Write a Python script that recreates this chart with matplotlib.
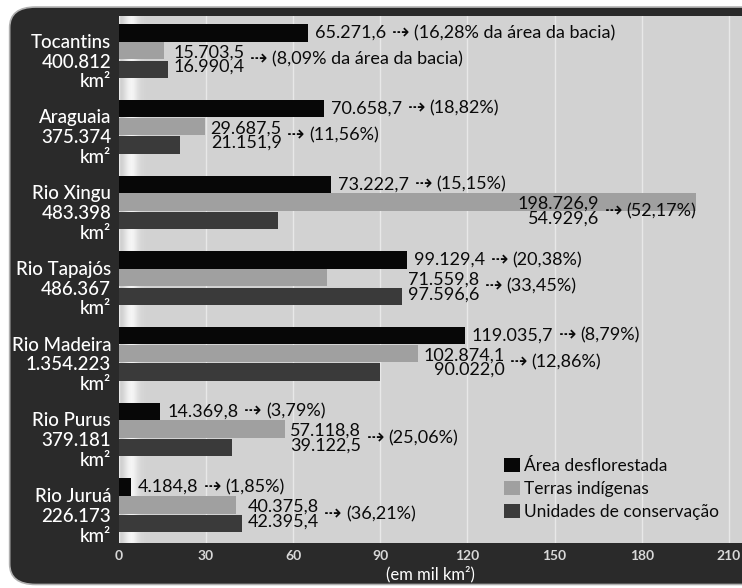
import matplotlib
matplotlib.use("Agg")
import matplotlib.pyplot as plt
import numpy as np
from matplotlib.patches import FancyBboxPatch
from matplotlib.offsetbox import TextArea, VPacker, HPacker, AnnotationBbox

plt.rcParams['font.family'] = ['Lato', 'DejaVu Sans']

# data (mil km²)
bacias = ['Tocantins', 'Araguaia', 'Rio Xingu', 'Rio Tapajós', 'Rio Madeira', 'Rio Purus', 'Rio Juruá']
areas = ['400.812', '375.374', '483.398', '486.367', '1.354.223', '379.181', '226.173']
desflorestada = [65.2716, 70.6587, 73.2227, 99.1294, 119.0357, 14.3698, 4.1848]
indigenas = [15.7035, 29.6875, 198.7269, 71.5598, 102.8741, 57.1188, 40.3758]
conservacao = [16.9904, 21.1519, 54.9296, 97.5966, 90.0220, 39.1225, 42.3954]
txt_desf = ['65.271,6', '70.658,7', '73.222,7', '99.129,4', '119.035,7', '14.369,8', '4.184,8']
txt_ind = ['15.703,5', '29.687,5', '198.726,9', '71.559,8', '102.874,1', '57.118,8', '40.375,8']
txt_cons = ['16.990,4', '21.151,9', '54.929,6', '97.596,6', '90.022,0', '39.122,5', '42.395,4']
pct_desf = ['16,28% da área da bacia', '18,82%', '15,15%', '20,38%', '8,79%', '3,79%', '1,85%']
pct_prot = ['8,09% da área da bacia', '11,56%', '52,17%', '33,45%', '12,86%', '25,06%', '36,21%']

c_desf, c_ind, c_cons = '#070707', '#a0a0a0', '#3a3a3a'
panel = '#2a2a2a'
arrow = '\u21e2'

fig = plt.figure(figsize=(7.42, 5.88), dpi=100)
fig.patches.append(FancyBboxPatch((0.013, 0.006), 1.05, 0.982,
                                  boxstyle="round,pad=0,rounding_size=0.035",
                                  transform=fig.transFigure, fc=panel, ec='#b0b0b0', lw=1.2,
                                  zorder=-5))
ax = fig.add_axes([0.160, 0.077, 0.840, 0.896])
ax.set_facecolor('#d2d2d2')

y = np.arange(len(bacias))
h = 0.23
ax.barh(y - 0.235, desflorestada, height=h, color=c_desf, label='Área desflorestada', zorder=3)
ax.barh(y, indigenas, height=h, color=c_ind, label='Terras indígenas', zorder=3)
ax.barh(y + 0.245, conservacao, height=h, color=c_cons, label='Unidades de conservação', zorder=3)

ax.set_xlim(0, 214.5)
ax.set_ylim(6.5, -0.46)

# light highlight stripe near the left edge
grad = np.array([[0.80, 0.86, 0.95, 0.97, 0.90, 0.84, 0.83]])
ax.imshow(grad, extent=[0, 9, 6.5, -0.46], cmap='gray', vmin=0, vmax=1,
          aspect='auto', zorder=1, interpolation='bicubic')

ax.set_xticks(range(0, 211, 30))
ax.grid(axis='x', color='#e8e8e8', lw=1.0, zorder=2)
ax.set_axisbelow(False)
ax.set_yticks([])
ax.tick_params(axis='x', length=0, colors='#d8d8d8', labelsize=10, pad=5)
for t in ax.get_xticklabels():
    t.set_fontweight('bold')
ax.set_xlabel('(em mil km²)', color='white', fontsize=12, labelpad=3)
for s in ax.spines.values():
    s.set_visible(False)

# river labels on the dark panel
for i in range(len(bacias)):
    ax.text(-0.012, i + 0.15, f'{bacias[i]}\n{areas[i]}\nkm²', transform=ax.get_yaxis_transform(),
            ha='right', va='center', color='white', fontsize=13.5, fontweight='medium',
            linespacing=1.2)

tp = dict(fontsize=13, color='#0a0a0a')
ap = dict(fontsize=15, color='#0a0a0a')


def tail(pct):
    return HPacker(children=[TextArea(arrow, textprops=ap), TextArea(f'({pct})', textprops=tp)],
                   align='center', pad=0, sep=3)


for i in range(len(bacias)):
    # deforested value
    row = HPacker(children=[TextArea(txt_desf[i], textprops=tp), tail(pct_desf[i])],
                  align='center', pad=0, sep=4)
    ab = AnnotationBbox(row, (desflorestada[i], i - 0.235), xybox=(5, 0), xycoords='data',
                        boxcoords='offset points', box_alignment=(0, 0.5), frameon=False, pad=0)
    ax.add_artist(ab)
    # protected areas pair
    pair = VPacker(children=[TextArea(txt_ind[i], textprops=tp), TextArea(txt_cons[i], textprops=tp)],
                   align='right', pad=0, sep=-1)
    box = HPacker(children=[pair, tail(pct_prot[i])], align='center', pad=0, sep=4)
    if indigenas[i] > 150:
        xy, al, dx = (indigenas[i], i + 0.12), (1, 0.5), 0
    else:
        xy, al, dx = (max(indigenas[i], conservacao[i]), i + 0.12), (0, 0.5), 4
    ab = AnnotationBbox(box, xy, xybox=(dx, 0), xycoords='data', boxcoords='offset points',
                        box_alignment=al, frameon=False, pad=0)
    ax.add_artist(ab)

leg = ax.legend(loc='lower right', bbox_to_anchor=(1.0, 0.0), frameon=False, fontsize=12.5,
                handlelength=0.9, handleheight=0.9, handletextpad=0.25, labelspacing=0.4,
                borderaxespad=0.9)
for t in leg.get_texts():
    t.set_color('#0a0a0a')

fig.savefig('out.png', dpi=100)
